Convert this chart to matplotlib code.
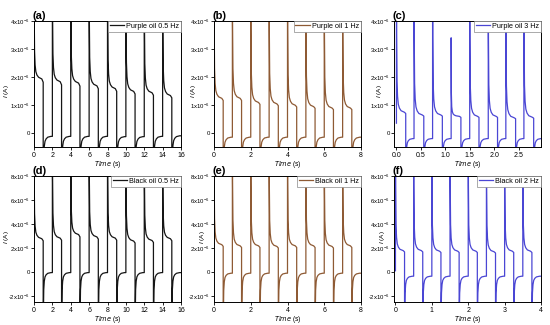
import matplotlib
matplotlib.use("Agg")
import matplotlib.pyplot as plt
from matplotlib.ticker import FuncFormatter
import numpy as np

plt.rcParams['font.family'] = ['Liberation Sans', 'DejaVu Sans']
plt.rcParams['mathtext.default'] = 'regular'

# --- data (currents in units of 1e-6 A) ---
# (a) purple oil 0.5 Hz
a_rise = [0, 2, 4, 6, 8, 10, 12, 14]
a_fall = [1, 3, 5, 7, 9, 11, 13, 15]
a_hi = [1.95, 1.85, 1.8, 1.7, 1.6, 1.5, 1.45, 1.35]
a_lo = [-0.12, -0.12, -0.12, -0.12, -0.13, -0.13, -0.12, -0.1]
a_peak = [10, 10, 10, 10, 10, 10, 10, 10]

# (b) purple oil 1 Hz
b_rise = [0, 1, 2, 3, 4, 5, 6, 7]
b_fall = [0.5, 1.5, 2.5, 3.5, 4.5, 5.5, 6.5, 7.5]
b_hi = [1.25, 1.25, 1.1, 1.05, 1.0, 0.95, 0.9, 0.9]
b_lo = [-0.15, -0.15, -0.15, -0.15, -0.15, -0.15, -0.15, -0.15]
b_peak = [10, 10, 10, 10, 10, 10, 10, 10]

# (c) purple oil 3 Hz
c_rise = [0.0, 0.36, 0.74, 1.12, 1.5, 1.88, 2.24, 2.61]
c_fall = [0.19, 0.56, 0.94, 1.32, 1.69, 2.07, 2.44, 2.81]
c_hi = [0.75, 0.65, 0.65, 0.6, 0.6, 0.6, 0.55, 0.57]
c_lo = [-0.2, -0.2, -0.2, -0.2, -0.2, -0.2, -0.2, -0.2]
c_peak = [10, 10, 10, 3.4, 10, 10, 10, 10]

# (d) black oil 0.5 Hz
d_rise = [0, 2, 4, 6, 8, 10, 12, 14]
d_fall = [1, 3, 5, 7, 9, 11, 13, 15]
d_hi = [2.8, 2.85, 3.15, 2.95, 2.85, 2.6, 2.65, 2.8]
d_lo = [-0.05, -0.05, -0.05, -0.05, -0.05, -0.05, -0.05, -0.05]
d_peak = [20, 20, 20, 20, 20, 20, 20, 20]

# (e) black oil 1 Hz
e_rise = [0, 1, 2, 3, 4, 5, 6, 7]
e_fall = [0.5, 1.5, 2.5, 3.5, 4.5, 5.5, 6.5, 7.5]
e_hi = [2.3, 2.2, 2.2, 2.15, 2.2, 2.2, 2.15, 2.2]
e_lo = [-0.1, -0.1, -0.1, -0.1, -0.1, -0.1, -0.1, -0.1]
e_peak = [20, 20, 20, 20, 20, 20, 20, 20]

# (f) black oil 2 Hz
f_rise = [0, 0.5, 1.0, 1.5, 2.0, 2.5, 3.0, 3.5]
f_fall = [0.25, 0.75, 1.25, 1.75, 2.25, 2.75, 3.25, 3.75]
f_hi = [1.8, 1.8, 1.75, 1.75, 1.75, 1.7, 1.75, 1.75]
f_lo = [-0.35, -0.35, -0.35, -0.35, -0.35, -0.35, -0.35, -0.35]
f_peak = [20, 20, 20, 20, 20, 20, 20, 20]

# transient shape after each switching edge (fraction of the jump left)
shape_u = [0, 0.02, 0.06, 0.12, 0.2, 0.32, 0.5, 0.85, 1.0]
shape_g = [1, 0.3, 0.12, 0.06, 0.03, 0.015, 0.005, 0, 0]
hi_tail = [0, 0, 0, 0, 0, 0, 0, -0.01, -0.07]

labels = ['Purple oil 0.5 Hz', 'Purple oil 1 Hz', 'Purple oil 3 Hz',
          'Black oil 0.5 Hz', 'Black oil 1 Hz', 'Black oil 2 Hz']
black, brown, blue = '#151515', '#8e5a34', '#4a46d4'


def trace(rise, fall, hi, lo, peak, trough, start=None):
    su, sg, st = np.array(shape_u), np.array(shape_g), np.array(hi_tail)
    t, y = [], []
    if start is not None:
        t.append(rise[0]); y.append(start)
    for k in range(len(rise)):
        dh = fall[k] - rise[k]
        nxt = rise[k + 1] if k + 1 < len(rise) else fall[k] + (rise[k] - fall[k - 1])
        dl = nxt - fall[k]
        t += list(rise[k] + su * dh)
        y += list(hi[k] + (peak[k] - hi[k]) * sg + hi[k] * st)
        t += list(fall[k] + su * dl)
        y += list(lo[k] + (trough - lo[k]) * sg)
    return np.array(t), np.array(y) * 1e-6


def fmt(v, pos):
    n = int(round(v * 1e6))
    return '0' if n == 0 else '%dx10$^{-6}$' % n


fig = plt.figure(figsize=(5.5, 3.25), dpi=100)
lefts = [34, 214, 394]
ylab_x = [-0.155, -0.11, -0.065, -0.155, -0.05, -0.05]
panels = [
    ('(a)', trace(a_rise, a_fall, a_hi, a_lo, a_peak, -6), black, (0, 16), [0, 2, 4, 6, 8, 10, 12, 14, 16], 0),
    ('(b)', trace(b_rise, b_fall, b_hi, b_lo, b_peak, -6), brown, (0, 8), [0, 2, 4, 6, 8], 0),
    ('(c)', trace(c_rise, c_fall, c_hi, c_lo, c_peak, -5, start=0.35), blue, (-0.05, 2.96),
     [0.0, 0.5, 1.0, 1.5, 2.0, 2.5], 0),
    ('(d)', trace(d_rise, d_fall, d_hi, d_lo, d_peak, -12), black, (0, 16), [0, 2, 4, 6, 8, 10, 12, 14, 16], 1),
    ('(e)', trace(e_rise, e_fall, e_hi, e_lo, e_peak, -12), brown, (0, 8), [0, 2, 4, 6, 8], 1),
    ('(f)', trace(f_rise, f_fall, f_hi, f_lo, f_peak, -12, start=0.1), blue, (-0.04, 4), [0, 1, 2, 3, 4], 1),
]

for i, (tag, (t, y), col, xl, xt, row) in enumerate(panels):
    left = lefts[i % 3]
    if row == 0:
        ax = fig.add_axes([left / 550, 1 - 147 / 325, 147 / 550, 126 / 325])
        ax.set_ylim(-0.5e-6, 4e-6)
        ax.set_yticks(np.array([0, 1, 2, 3, 4]) * 1e-6)
        ylab_y = 0.44
    else:
        ax = fig.add_axes([left / 550, 1 - 302 / 325, 147 / 550, 126 / 325])
        ax.set_ylim(-2.5e-6, 8e-6)
        ax.set_yticks(np.array([-2, 0, 2, 4, 6, 8]) * 1e-6)
        ylab_y = 0.515
    ax.plot(t, y, color=col, lw=0.9, label=labels[i])
    ax.set_xlim(*xl)
    ax.set_xticks(xt)
    if i == 2:
        ax.set_xticklabels(['%.1f' % v for v in xt])
    ax.yaxis.set_major_formatter(FuncFormatter(fmt))
    ax.tick_params(axis='x', labelsize=5, length=2, width=0.6, pad=1.5)
    ax.tick_params(axis='y', labelsize=4.3, length=2, width=0.6, pad=1)
    for s in ax.spines.values():
        s.set_linewidth(0.7)
    ax.set_xlabel(r'$\mathit{Time}$ (s)', fontsize=4.8)
    ax.xaxis.set_label_coords(0.5, -0.095)
    ax.set_ylabel(r'$\mathit{I}$ (A)', fontsize=4.6)
    ax.yaxis.set_label_coords(ylab_x[i], ylab_y)
    ax.text(-0.01, 1.0, tag, transform=ax.transAxes, fontsize=8, fontweight='bold',
            ha='left', va='bottom')
    leg = ax.legend(loc='upper right', fontsize=5.2, handlelength=2.0, borderaxespad=0,
                    fancybox=False, framealpha=1, edgecolor='#888888',
                    borderpad=0.25, handletextpad=0.3)
    leg.get_frame().set_linewidth(0.5)

fig.savefig('out.png', dpi=100)
